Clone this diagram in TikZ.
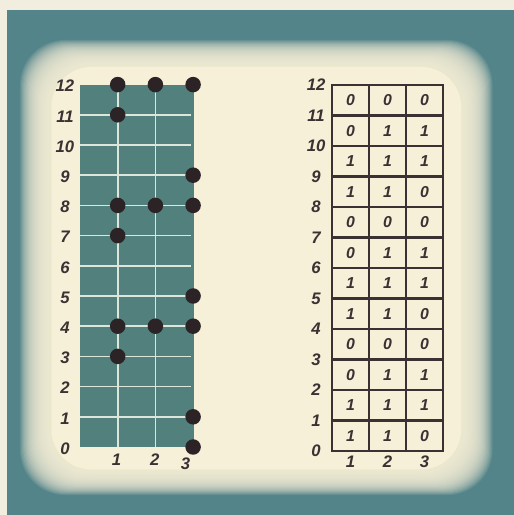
\documentclass[tikz,border=0pt]{standalone}
\usepackage{fontspec}
\setmainfont{Liberation Sans}
\usetikzlibrary{positioning}
\definecolor{Paper}{HTML}{F6F0D8}
\definecolor{Margin}{HTML}{F2EEDF}
\definecolor{Frame}{HTML}{53848A}
\definecolor{Tile}{HTML}{52807D}
\definecolor{Groove}{HTML}{DCE6DA}
\definecolor{Ink}{HTML}{2B2326}
\definecolor{Rule}{HTML}{3A3133}

\begin{document}
\begin{tikzpicture}[
  dot/.style={circle,fill=Ink,minimum size=3.1mm,inner sep=0pt},
  axisnum/.style={font=\fontsize{9.5}{11}\selectfont\bfseries\itshape,text=Rule,inner sep=0pt},
  cellnum/.style={font=\fontsize{9}{10}\selectfont\bfseries\itshape,text=Rule,inner sep=0pt},
  groove/.style={draw=Groove,line width=1pt},
  rule/.style={draw=Rule,line width=1.7pt},
  glow/.style={fill=Paper,fill opacity=0.11,rounded corners=9mm}
]
\useasboundingbox (0,0) rectangle (10.28,10.3);
\fill[Margin] (0,0) rectangle (10.28,10.3);
\fill[Frame] (0.14,0) rectangle (10.28,10.1);
% soft light window in the frame
\foreach \i in {0,...,29}
  \fill[glow] ({0.4+0.021*\i},{0.4+0.017*\i}) rectangle ({9.85-0.021*\i},{9.5-0.018*\i});
\fill[Paper,rounded corners=8mm] (1.03,0.91) rectangle (9.22,8.96);

% left: tiles with dots
\begin{scope}[shift={(1.6,1.36)},x=0.754cm,y=0.604cm]
\fill[Tile] (0,0) rectangle (3.03,12);
\foreach \r in {1,...,11} \draw[groove] (0,\r) -- (2.95,\r);
\foreach \c in {1,2} \draw[groove] (\c,0) -- (\c,12);
\foreach \r in {0,...,12} \node[axisnum] (ll\r) at (-0.4,\r-0.05) {\r};
\node[axisnum] (lx1) at (0.97,-0.43) {1};
\node[axisnum] (lx2) at (1.98,-0.43) {2};
\node[axisnum] (lx3) at (2.8,-0.56) {3};
\foreach \c/\r in {1/12,2/12,3/12,1/11,3/9,1/8,2/8,3/8,1/7,3/5,1/4,2/4,3/4,1/3,3/1,3/0}
  \node[dot] (d\c-\r) at (\c,\r) {};
\end{scope}

% right: table of digits
\begin{scope}[shift={(6.64,1.28)},x=0.74cm,y=0.61cm]
\draw[rule] (0,0) rectangle (3,12);
\foreach \r in {1,...,11} \draw[rule] (0,\r) -- (3,\r);
\foreach \c in {1,2} \draw[rule] (\c,0) -- (\c,12);
\foreach \r in {0,...,12} \node[axisnum] (rl\r) at (-0.43,\r) {\r};
\foreach \c in {1,2,3} \node[axisnum] (rx\c) at (\c-0.5,-0.36) {\c};
\foreach \r/\a/\b/\e in {11/0/0/0,10/0/1/1,9/1/1/1,8/1/1/0,7/0/0/0,6/0/1/1,5/1/1/1,4/1/1/0,3/0/0/0,2/0/1/1,1/1/1/1,0/1/1/0}{
  \node[cellnum] (c\r-1) at (0.5,\r+0.5) {\a};
  \node[cellnum] (c\r-2) at (1.5,\r+0.5) {\b};
  \node[cellnum] (c\r-3) at (2.5,\r+0.5) {\e};
}
\end{scope}
\end{tikzpicture}
\end{document}
